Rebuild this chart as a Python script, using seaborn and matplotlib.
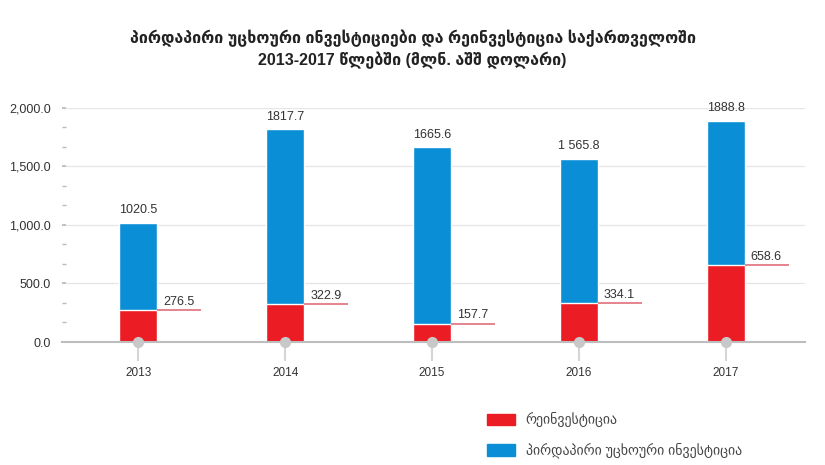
import numpy as np
import pandas as pd
import matplotlib; matplotlib.use("Agg")
import matplotlib.pyplot as plt
import seaborn as sns
from matplotlib.patches import Patch
from matplotlib.ticker import MultipleLocator, FuncFormatter

sns.set_theme(style="white")
plt.rcParams["font.family"] = ["Liberation Sans", "DejaVu Sans"]

# 数据
years = ["2013", "2014", "2015", "2016", "2017"]
fdi = [1020.5, 1817.7, 1665.6, 1565.8, 1888.8]
reinvest = [276.5, 322.9, 157.7, 334.1, 658.6]
fdi_labels = ["1020.5", "1817.7", "1665.6", "1 565.8", "1888.8"]
reinvest_labels = ["276.5", "322.9", "157.7", "334.1", "658.6"]

BLUE = "#0A8FD6"
RED = "#EC1C24"
LINE_RED = "#E0707A"
GREY = "#C8C8C8"

df = pd.DataFrame({"year": years, "fdi": fdi, "reinvest": reinvest})

fig = plt.figure(figsize=(8.25, 4.65), dpi=100)
ax = fig.add_axes([0.075, 0.2645, 0.901, 0.5035])

bw = 0.26
sns.barplot(data=df, x="year", y="fdi", color=BLUE, width=bw,
            saturation=1, ax=ax)
sns.barplot(data=df, x="year", y="reinvest", color=RED, width=bw,
            saturation=1, ax=ax)

ax.set_xlim(-0.52, 4.54)
ax.set_ylim(0, 2000)

# 数值标签
for i in range(len(years)):
    ax.text(i, fdi[i] + 55, fdi_labels[i], ha="center", va="bottom",
            fontsize=9, color="#333333")
    x0 = i + bw / 2
    ax.plot([x0, x0 + 0.3], [reinvest[i], reinvest[i]], color=LINE_RED,
            lw=1.2, solid_capstyle="butt")
    ax.text(x0 + 0.04, reinvest[i] + 18, reinvest_labels[i], ha="left",
            va="bottom", fontsize=9, color="#333333")

# x 轴上的灰色圆点
ax.plot(range(len(years)), [0] * len(years), "o", color=GREY, ms=7,
        clip_on=False, zorder=5)

ax.yaxis.set_major_locator(MultipleLocator(500))
ax.yaxis.set_minor_locator(MultipleLocator(500 / 3))
ax.yaxis.set_major_formatter(FuncFormatter(lambda v, p: f"{v:,.1f}"))
ax.grid(axis="y", which="major", color="#E6E6E6", lw=0.9)
ax.set_axisbelow(True)

ax.tick_params(axis="y", which="both", left=True, direction="in", length=3,
               color="#BBBBBB", labelsize=9, labelcolor="#333333", pad=8)
ax.tick_params(axis="x", bottom=True, length=14, width=1.5, color="#D5D5D5",
               labelsize=8.5, labelcolor="#333333", pad=4)

for s in ["top", "right", "left"]:
    ax.spines[s].set_visible(False)
ax.spines["bottom"].set_color("#BDBDBD")
ax.spines["bottom"].set_linewidth(1.5)
ax.set_xlabel("")
ax.set_ylabel("")

fig.text(0.5, 0.918,
         "პირდაპირი უცხოური ინვესტიციები და რეინვესტიცია საქართველოში",
         ha="center", va="center", fontsize=11.5, fontweight="bold",
         color="#222222")
fig.text(0.5, 0.87, "2013-2017 წლებში (მლნ. აშშ დოლარი)",
         ha="center", va="center", fontsize=11.5, fontweight="bold",
         color="#222222")

handles = [Patch(color=RED, label="რეინვესტიცია"),
           Patch(color=BLUE, label="პირდაპირი უცხოური ინვესტიცია")]
fig.legend(handles=handles, loc="upper left", bbox_to_anchor=(0.575, 0.14),
           frameon=False, fontsize=10, handlelength=2.0, handleheight=0.9,
           labelspacing=1.1, labelcolor="#444444")

plt.savefig("out.png", dpi=100)
plt.close()
